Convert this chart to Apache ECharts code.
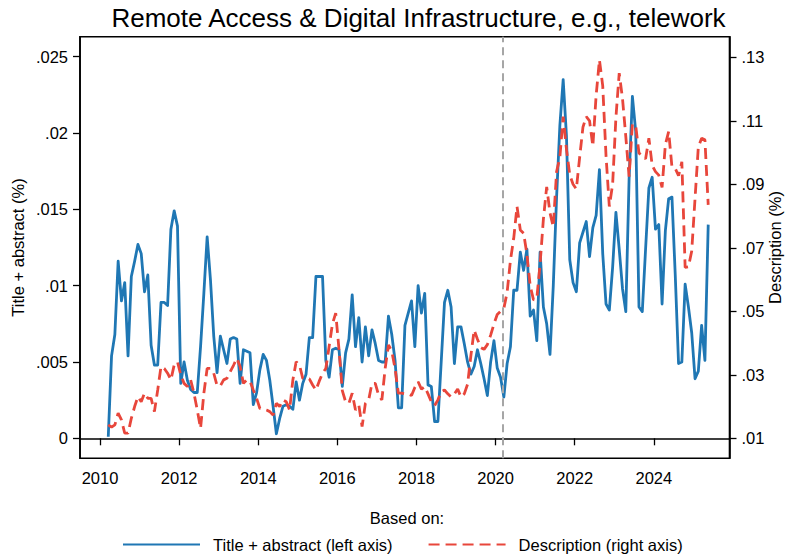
<!DOCTYPE html>
<html>
<head>
<meta charset="utf-8">
<script src="https://cdn.jsdelivr.net/npm/echarts@6/dist/echarts.min.js"></script>
<style>
  html, body { margin: 0; padding: 0; background: #ffffff; }
  #chart { width: 786px; height: 557px; }
</style>
</head>
<body>
<div id="chart"></div>
<script>
// Monthly shares, March 2010 through May 2025 (one value per month).
const FIRST_YEAR = 2010;
const FIRST_MONTH = 3;

// Share of postings mentioning the topic in title + abstract (%), left axis
const titleAbstract = [
  0.0001, 0.0054, 0.0068, 0.0116, 0.0090, 0.0102, 0.0054, 0.0106, 0.0116, 0.0127,
  0.0121, 0.0096, 0.0107, 0.0061, 0.0048, 0.0048, 0.0089, 0.0089, 0.0087, 0.0137,
  0.0149, 0.0139, 0.0036, 0.0050, 0.0038, 0.0032, 0.0030, 0.0030, 0.0060, 0.0095,
  0.0132, 0.0104, 0.0067, 0.0043, 0.0067, 0.0058, 0.0049, 0.0065, 0.0066, 0.0065,
  0.0036, 0.0058, 0.0057, 0.0056, 0.0022, 0.0030, 0.0045, 0.0055, 0.0051, 0.0038,
  0.0021, 0.0003, 0.0013, 0.0021, 0.0022, 0.0021, 0.0019, 0.0037, 0.0025, 0.0036,
  0.0042, 0.0066, 0.0066, 0.0106, 0.0106, 0.0106, 0.0051, 0.0040, 0.0058, 0.0059,
  0.0058, 0.0034, 0.0056, 0.0065, 0.0094, 0.0060, 0.0079, 0.0050, 0.0073, 0.0054,
  0.0071, 0.0062, 0.0051, 0.0050, 0.0050, 0.0080, 0.0068, 0.0051, 0.0020, 0.0020,
  0.0074, 0.0082, 0.0090, 0.0060, 0.0100, 0.0082, 0.0095, 0.0035, 0.0034, 0.0011,
  0.0011, 0.0050, 0.0089, 0.0097, 0.0086, 0.0049, 0.0073, 0.0073, 0.0062, 0.0050,
  0.0042, 0.0047, 0.0058, 0.0049, 0.0039, 0.0028, 0.0050, 0.0064, 0.0046, 0.0040,
  0.0027, 0.0049, 0.0060, 0.0097, 0.0097, 0.0122, 0.0110, 0.0124, 0.0080, 0.0084,
  0.0064, 0.0122, 0.0086, 0.0075, 0.0055, 0.0100, 0.0158, 0.0205, 0.0235, 0.0198,
  0.0117, 0.0102, 0.0096, 0.0128, 0.0135, 0.0142, 0.0119, 0.0138, 0.0146, 0.0176,
  0.0121, 0.0088, 0.0084, 0.0112, 0.0148, 0.0124, 0.0098, 0.0083, 0.0170, 0.0224,
  0.0201, 0.0086, 0.0083, 0.0124, 0.0164, 0.0171, 0.0137, 0.0140, 0.0088, 0.0136,
  0.0157, 0.0158, 0.0107, 0.0049, 0.0050, 0.0101, 0.0086, 0.0069, 0.0039, 0.0044,
  0.0074, 0.0051, 0.0140
];

// Share of postings mentioning the topic in the description (%), right axis
const description = [
  0.0142, 0.0135, 0.0142, 0.0179, 0.0158, 0.0116, 0.0116, 0.0163, 0.0200, 0.0231,
  0.0215, 0.0242, 0.0226, 0.0226, 0.0184, 0.0252, 0.0326, 0.0320, 0.0305, 0.0284,
  0.0331, 0.0341, 0.0299, 0.0273, 0.0263, 0.0284, 0.0242, 0.0189, 0.0131, 0.0242,
  0.0320, 0.0320, 0.0305, 0.0266, 0.0265, 0.0284, 0.0289, 0.0310, 0.0330, 0.0352,
  0.0326, 0.0273, 0.0284, 0.0280, 0.0252, 0.0226, 0.0194, 0.0192, 0.0189, 0.0184,
  0.0173, 0.0210, 0.0200, 0.0221, 0.0215, 0.0189, 0.0284, 0.0341, 0.0331, 0.0289,
  0.0287, 0.0287, 0.0268, 0.0252, 0.0280, 0.0305, 0.0320, 0.0389, 0.0460, 0.0494,
  0.0380, 0.0250, 0.0215, 0.0210, 0.0242, 0.0189, 0.0205, 0.0137, 0.0210, 0.0221,
  0.0273, 0.0273, 0.0236, 0.0221, 0.0320, 0.0394, 0.0375, 0.0320, 0.0242, 0.0242,
  0.0240, 0.0240, 0.0235, 0.0260, 0.0278, 0.0255, 0.0263, 0.0240, 0.0215, 0.0203,
  0.0221, 0.0247, 0.0252, 0.0240, 0.0230, 0.0240, 0.0255, 0.0230, 0.0240, 0.0270,
  0.0360, 0.0441, 0.0412, 0.0386, 0.0380, 0.0395, 0.0425, 0.0460, 0.0490, 0.0500,
  0.0509, 0.0560, 0.0660, 0.0730, 0.0830, 0.0756, 0.0746, 0.0680, 0.0580, 0.0536,
  0.0540, 0.0650, 0.0790, 0.0892, 0.0810, 0.0766, 0.0940, 0.0985, 0.1113, 0.1010,
  0.0930, 0.0900, 0.0885, 0.0985, 0.1080, 0.1113, 0.1100, 0.1020, 0.1180, 0.1292,
  0.1210, 0.0990, 0.0830, 0.0900, 0.1110, 0.1250, 0.1170, 0.1050, 0.0924, 0.1090,
  0.1085, 0.0998, 0.0990, 0.0980, 0.1045, 0.0960, 0.0940, 0.0929, 0.0890, 0.1025,
  0.1066, 0.0955, 0.0950, 0.0927, 0.0971, 0.0638, 0.0640, 0.0690, 0.0855, 0.1018,
  0.1045, 0.1040, 0.0835
];

// Axis ticks and their printed labels
const yearTicks = [2010, 2012, 2014, 2016, 2018, 2020, 2022, 2024];
const leftTicks = [0, 0.005, 0.01, 0.015, 0.02, 0.025];
const leftTickLabels = ['0', '.005', '.01', '.015', '.02', '.025'];
const rightTicks = [0.01, 0.03, 0.05, 0.07, 0.09, 0.11, 0.13];
const rightTickLabels = ['.01', '.03', '.05', '.07', '.09', '.11', '.13'];

// Reference date marked by the vertical dashed line (March 2020)
const markerDate = 2020 + 2 / 12;

const chartTitle = 'Remote Access & Digital Infrastructure, e.g., telework';
const leftAxisName = 'Title + abstract (%)';
const rightAxisName = 'Description (%)';
const legendHeading = 'Based on:';
const seriesNames = ['Title + abstract (left axis)', 'Description (right axis)'];

// Decimal-year position of each month (placed at mid-month)
function monthPosition(k) {
  const m = FIRST_MONTH - 1 + k;
  return FIRST_YEAR + (m + 0.5) / 12;
}
const pairs = (arr) => arr.map((v, k) => [monthPosition(k), v]);

const FONT = '"Liberation Sans", Arial, Helvetica, sans-serif';
const BLUE = '#1f77b4';
const RED = '#e8463b';
const LABEL_SIZE = 16.5;

// Rotated axis title that reads bottom-to-top
function axisTitle(text, cx, cy) {
  return {
    type: 'text', x: cx, y: cy, rotation: Math.PI / 2, silent: true,
    style: { text: text, fontFamily: FONT, fontSize: LABEL_SIZE, fill: '#000', align: 'center', verticalAlign: 'middle' }
  };
}

const chart = echarts.init(document.getElementById('chart'), null, { renderer: 'svg' });

chart.setOption({
  animation: false,
  backgroundColor: '#ffffff',
  textStyle: { fontFamily: FONT, color: '#000' },
  grid: {
    left: 80, right: 56.5, top: 36.7, bottom: 98.7,
    outerBoundsMode: 'none',
    show: true, borderColor: '#000', borderWidth: 1.6, backgroundColor: 'transparent'
  },
  graphic: [
    {
      type: 'text', x: 418.5, y: 18, silent: true,
      style: { text: chartTitle, fontFamily: FONT, fontSize: 26, fill: '#000', align: 'center', verticalAlign: 'middle' }
    },
    {
      type: 'text', x: 407, y: 518, silent: true,
      style: { text: legendHeading, fontFamily: FONT, fontSize: LABEL_SIZE, fill: '#000', align: 'center', verticalAlign: 'middle' }
    },
    axisTitle(leftAxisName, 18, 247.5),
    axisTitle(rightAxisName, 775, 247.5)
  ],
  legend: {
    left: 122, top: 536, padding: 0,
    itemWidth: 77, itemHeight: 14, itemGap: 35,
    itemStyle: { opacity: 0 },
    textStyle: { fontFamily: FONT, fontSize: LABEL_SIZE, color: '#000', padding: [0, 0, 0, 8] },
    data: seriesNames
  },
  xAxis: {
    type: 'value',
    min: 2009.494, max: 2025.913,
    axisLine: { show: true, lineStyle: { color: '#000', width: 1.6 } },
    axisTick: { show: true, length: 7, lineStyle: { color: '#000', width: 1.3 }, customValues: yearTicks },
    axisLabel: { fontFamily: FONT, fontSize: LABEL_SIZE, color: '#000', margin: 11, customValues: yearTicks,
                 formatter: (v) => String(v) },
    splitLine: { show: false }
  },
  yAxis: [
    {
      type: 'value', position: 'left',
      min: -0.00131, max: 0.02631,
      axisLine: { show: true, lineStyle: { color: '#000', width: 1.6 } },
      axisTick: { show: true, length: 7, lineStyle: { color: '#000', width: 1.3 }, customValues: leftTicks },
      axisLabel: { fontFamily: FONT, fontSize: LABEL_SIZE, color: '#000', margin: 12, customValues: leftTicks,
                   formatter: (v) => leftTickLabels[leftTicks.findIndex(t => Math.abs(t - v) < 1e-9)] },
      splitLine: { show: false }
    },
    {
      type: 'value', position: 'right',
      min: 0.0037, max: 0.13649,
      axisLine: { show: true, lineStyle: { color: '#000', width: 1.6 } },
      axisTick: { show: true, length: 7, lineStyle: { color: '#000', width: 1.3 }, customValues: rightTicks },
      axisLabel: { fontFamily: FONT, fontSize: LABEL_SIZE, color: '#000', margin: 12, customValues: rightTicks,
                   formatter: (v) => rightTickLabels[rightTicks.findIndex(t => Math.abs(t - v) < 1e-9)] },
      splitLine: { show: false }
    }
  ],
  series: [
    {
      name: seriesNames[0], type: 'line', yAxisIndex: 0,
      data: pairs(titleAbstract),
      showSymbol: false, symbol: 'none',
      lineStyle: { color: BLUE, width: 2.8, join: 'round' },
      itemStyle: { color: BLUE },
      markLine: {
        silent: true, symbol: ['none', 'none'],
        label: { show: false },
        lineStyle: { color: '#a6a6a6', type: [8, 5], width: 2 },
        data: [{ xAxis: markerDate }]
      },
      z: 2
    },
    {
      name: seriesNames[1], type: 'line', yAxisIndex: 1,
      data: pairs(description),
      showSymbol: false, symbol: 'none',
      lineStyle: { color: RED, width: 2.8, type: [11, 6] },
      itemStyle: { color: RED },
      z: 3
    }
  ]
});
</script>
</body>
</html>
